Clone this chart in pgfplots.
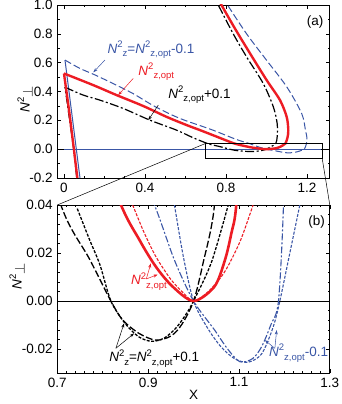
\documentclass[border=0pt]{standalone}
\usepackage{fontspec}
\setmainfont{Liberation Sans}
\usepackage{pgfplots}
\usepackage{pgfplotstable}
\pgfplotsset{compat=1.18}
\usetikzlibrary{arrows.meta}

\definecolor{cred}{RGB}{237,28,36}
\definecolor{cblue}{RGB}{58,86,166}

\newcommand{\sm}{\fontsize{9.5}{10}\selectfont}
\newcommand{\Nt}{\textit{N}\raisebox{0.8ex}{\sm 2}}
\newcommand{\sub}[1]{\raisebox{-0.5ex}{\sm #1}}

% main curves: steep branch (straight) + body (smooth)
\pgfplotstableread{
x y
0.066 -0.20
0.049 0.00
0.025 0.27
0.000 0.525
}\redsteep
\pgfplotstableread{
x y
0.000 0.525
0.145 0.444
0.260 0.375
0.392 0.299
0.507 0.224
0.606 0.167
0.672 0.132
0.754 0.087
0.836 0.042
0.881 0.0254
0.917 0.0143
0.954 0.006
1.000 0.000
1.046 0.006
1.069 0.017
1.083 0.028
1.094 0.040
1.104 0.080
1.108 0.132
1.100 0.224
1.067 0.340
1.001 0.479
0.919 0.664
0.844 0.838
0.778 1.000
0.760 1.050
}\redbody

\pgfplotstableread{
x y
0.079 -0.20
0.061 0.00
0.005 0.618
}\bluesteep
\pgfplotstableread{
x y
0.005 0.618
0.079 0.560
0.153 0.515
0.250 0.450
0.342 0.385
0.450 0.295
0.573 0.213
0.730 0.135
0.850 0.068
0.914 0.040
0.958 0.017
1.000 0.000
1.046 -0.012
1.075 -0.020
1.102 -0.0253
1.130 -0.024
1.150 -0.019
1.170 -0.010
1.187 0.000
1.198 0.040
1.200 0.080
1.193 0.130
1.174 0.248
1.100 0.433
1.000 0.618
0.902 0.800
0.808 1.000
0.790 1.050
}\bluebody

\pgfplotstableread{
x y
0.063 -0.20
0.050 -0.02
0.005 0.430
}\blacksteep
\pgfplotstableread{
x y
0.005 0.430
0.095 0.375
0.178 0.340
0.293 0.282
0.425 0.201
0.556 0.132
0.640 0.078
0.715 0.0365
0.770 0.0178
0.818 0.000
0.844 -0.0079
0.880 -0.0135
0.917 -0.0163
0.951 -0.0145
0.975 -0.0095
1.000 0.000
1.020 0.015
1.046 0.040
1.053 0.085
1.053 0.178
1.034 0.294
0.984 0.456
0.902 0.640
0.836 0.800
0.762 1.000
0.745 1.050
}\blackbody

% second set, shown only in panel (b)
\pgfplotstableread{
x y
0.744 0.0385
0.770 0.0260
0.794 0.0150
0.818 0.000
0.850 -0.0095
0.880 -0.0150
0.908 -0.0168
0.935 -0.0155
0.960 -0.0115
0.980 -0.0065
1.000 0.000
1.040 0.0165
1.080 0.0425
}\blackextra
\pgfplotstableread{
x y
0.866 0.040
0.890 0.029
0.917 0.0185
0.950 0.009
0.977 0.0035
1.000 0.000
1.030 0.0035
1.061 0.0101
1.080 0.016
1.105 0.026
1.131 0.040
}\redextra
\pgfplotstableread{
x y
0.958 0.040
0.978 0.018
1.000 0.000
1.030 -0.011
1.060 -0.019
1.090 -0.024
1.120 -0.0255
1.150 -0.022
1.175 -0.011
1.190 0.000
1.212 0.020
1.234 0.040
}\blueextra

\pgfplotsset{
  panel/.style={
    scale only axis, width=272.5pt,
    axis line style={line width=0.9pt},
    tick style={line width=0.6pt, black},
    major tick length=4pt, minor tick length=2.2pt,
    tick align=inside,
    scaled ticks=false,
    clip mode=individual,
  },
}
\tikzset{arr/.style={line width=0.5pt, -{Stealth[length=4.5pt,width=3pt]}}}

\begin{document}
\fontsize{13.5}{16}\selectfont
\begin{tikzpicture}
\useasboundingbox (0,0) rectangle (342pt,-404pt);

\begin{axis}[panel, name=top, at={(57.3pt,-178pt)}, anchor=south west, height=173pt,
  xmin=-0.033, xmax=1.313, ymin=-0.2, ymax=1.0,
  xtick={0,0.4,0.8,1.2}, xticklabels={0,0.4,0.8,1.2}, minor x tick num=3,
  ytick={-0.2,0,0.2,0.4,0.6,0.8,1.0},
  yticklabels={-0.2,0.0,0.2,0.4,0.6,0.8,1.0}, minor y tick num=1,
]
\addplot[black, line width=0.8pt] coordinates {(-0.1,0) (1.4,0)};
\addplot[cblue, line width=1pt] coordinates {(0,0) (1.27,0)};
\addplot[cblue, line width=1pt] table {\bluesteep};
\addplot[cblue, line width=1pt, smooth, dash pattern=on 7pt off 3pt] table {\bluebody};
\addplot[black, line width=1.2pt, dash pattern=on 8pt off 2.5pt on 2pt off 2.5pt] table {\blacksteep};
\addplot[black, line width=1.2pt, smooth, dash pattern=on 9pt off 2.5pt on 2pt off 2.5pt] table {\blackbody};
\addplot[cred, line width=2.4pt] table {\redsteep};
\addplot[cred, line width=2.4pt, smooth] table {\redbody};

\draw[black, line width=0.6pt] (0.7,0.04) rectangle (1.275,-0.06);
\coordinate (r1) at (0.7,0.04);
\coordinate (r2) at (1.275,-0.06);

\node[cblue, anchor=base west, inner sep=0] at (0.215,0.665) {\Nt\sub{z}=\Nt\sub{z,opt}-0.1};
\node[cred, anchor=base west, inner sep=0] at (0.367,0.514) {\Nt\sub{z,opt}};
\node[black, anchor=base west, inner sep=0] at (0.515,0.352) {\Nt\sub{z,opt}+0.1};
\draw[arr, cblue] (0.202,0.618) -- (0.145,0.533);
\draw[arr, cred] (0.342,0.491) -- (0.268,0.375);
\draw[arr, black] (0.466,0.306) -- (0.416,0.201);
\node at (1.24,0.882) {(a)};
\end{axis}

\begin{axis}[panel, name=bot, at={(57.3pt,-373pt)}, anchor=south west, height=168pt,
  xmin=0.7, xmax=1.3, ymin=-0.03, ymax=0.04,
  xtick={0.7,0.9,1.1,1.3}, xticklabels={0.7,0.9,1.1,1.3}, minor x tick num=9,
  ytick={-0.02,0,0.02,0.04}, yticklabels={-0.02,0.00,0.02,0.04}, minor y tick num=4,
  xlabel={X},
  xlabel style={yshift=6pt},
]
\addplot[black, line width=0.8pt] coordinates {(0.6,0) (1.4,0)};
\addplot[cblue, line width=1.1pt, smooth, dash pattern=on 7pt off 2pt on 2pt off 2pt] table {\bluebody};
\addplot[cblue, line width=1.1pt, smooth, dash pattern=on 3pt off 1.5pt] table {\blueextra};
\addplot[black, line width=1.3pt, smooth, dash pattern=on 7pt off 2.5pt] table {\blackbody};
\addplot[black, line width=1.3pt, smooth, dash pattern=on 3pt off 1.5pt] table {\blackextra};
\addplot[cred, line width=1.1pt, smooth, dash pattern=on 3pt off 1.5pt] table {\redextra};
\addplot[cred, line width=2.6pt, smooth] table {\redbody};

\node[cred, anchor=base west, inner sep=0] at (0.862,0.0067) {\Nt\sub{z,opt}};
\draw[arr, cred] (0.896,0.0092) -- (0.906,0.0157);
\draw[arr, cred] (0.896,0.0092) -- (0.921,0.0110);
\node[black, anchor=base west, inner sep=0] at (0.814,-0.0253) {\Nt\sub{z}=\Nt\sub{z,opt}+0.1};
\draw[arr, black] (0.829,-0.0197) -- (0.847,-0.0093);
\draw[arr, black] (0.829,-0.0197) -- (0.869,-0.0135);
\node[cblue, anchor=base west, inner sep=0] at (1.166,-0.0232) {\Nt\sub{z,opt}-0.1};
\draw[arr, cblue] (1.179,-0.0197) -- (1.157,-0.0163);
\draw[arr, cblue] (1.179,-0.0197) -- (1.183,-0.0121);
\node at (1.271,0.0329) {(b)};
\end{axis}

% y labels
\node[rotate=90, inner sep=0] at (25pt,-99pt) {\Nt\raisebox{-0.4ex}{$\perp$}};
\node[rotate=90, inner sep=0] at (17pt,-276pt) {\Nt\raisebox{-0.4ex}{$\perp$}};

\draw[line width=0.5pt] (r1) -- (bot.north west);
\draw[line width=0.5pt] (r2) -- (bot.north east);
\end{tikzpicture}
\end{document}
